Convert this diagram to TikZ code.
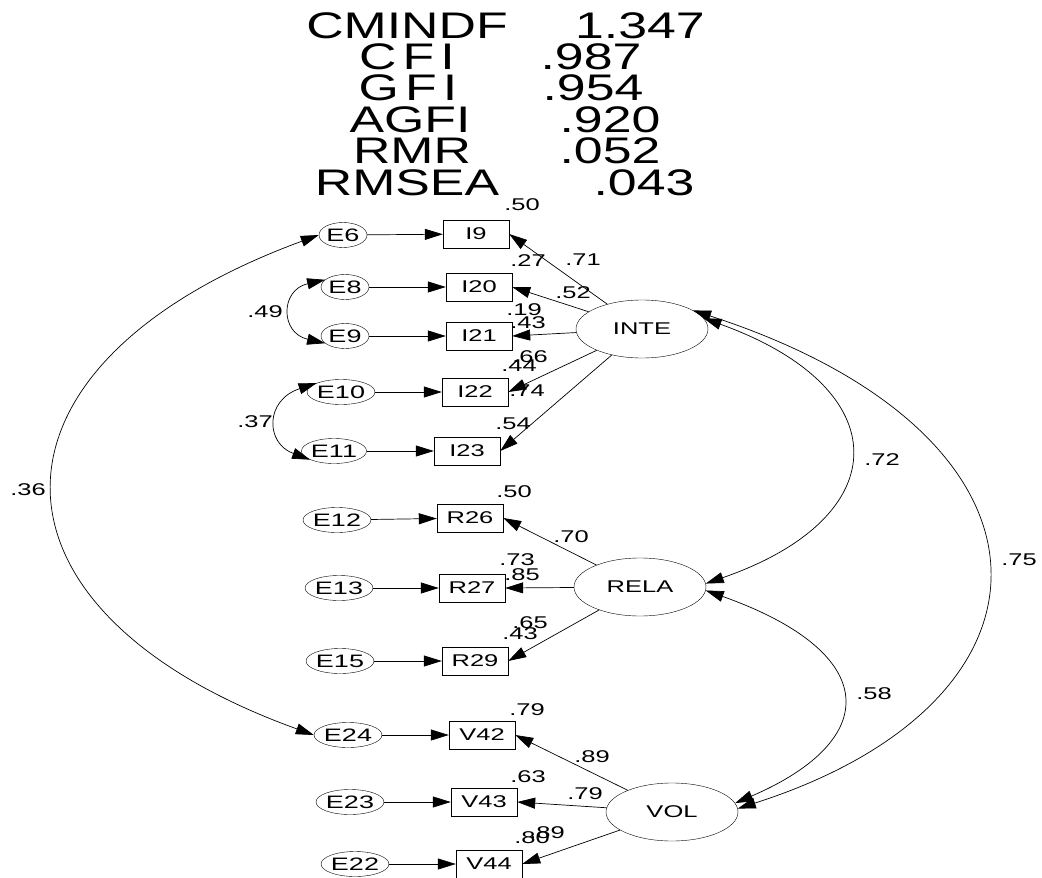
\documentclass[tikz,border=0pt]{standalone}
\usepackage{fontspec}
\setmainfont[FakeStretch=1.5]{Liberation Sans}
\newfontfamily\fitfont[FakeStretch=1.4]{Liberation Sans}
\usepackage{tikz}
\usetikzlibrary{arrows.meta, shapes.geometric}

\begin{document}
\begin{tikzpicture}[
            x=1pt, y=-1pt,
            every node/.style={font=\fontsize{17}{17}\selectfont, inner sep=0pt},
            errvar/.style={draw, ellipse, minimum width=48pt, minimum height=25pt, font=\fontsize{18}{18}\selectfont},
            obsbox/.style={draw, rectangle, minimum width=66pt, minimum height=28pt},
            latent/.style={draw, ellipse, minimum width=132pt, minimum height=58pt},
            fitline/.style={font=\fitfont\fontsize{37}{37}\selectfont},
            regpath/.style={-{Triangle[length=18pt, width=11pt]}, line width=0.7pt},
            covpath/.style={{Triangle[length=18pt, width=11pt]}-{Triangle[length=18pt, width=11pt]}, line width=0.7pt}
        ]
            \useasboundingbox (0,0) rectangle (1042,878);

            % fit indices
            \node[fitline] at (407,26) (cmindf) {CMINDF};
            \node[fitline] at (640,26) (cmindfval) {1.347};
            \node[fitline] at (407,57) (cfi) {C\,F\,I};
            \node[fitline] at (591,57) (cfival) {.987};
            \node[fitline] at (408,88) (gfi) {G\,F\,I};
            \node[fitline] at (593,88) (gfival) {.954};
            \node[fitline] at (410,120) (agfi) {AGFI};
            \node[fitline] at (610,120) (agfival) {.920};
            \node[fitline] at (412,151) (rmr) {RMR};
            \node[fitline] at (610,151) (rmrval) {.052};
            \node[fitline] at (407,183) (rmsea) {RMSEA};
            \node[fitline] at (644,183) (rmseaval) {.043};

            % latent factors
            \node[latent] at (642,329) (INTE) {INTE};
            \node[latent] at (640,587) (RELA) {RELA};
            \node[latent] at (672,812) (VOL) {VOL};

            % interest items
            \node[errvar] at (343,235) (E6) {E6};
            \node[obsbox] at (476,234) (I9) {I9};
            \node[errvar] at (345,287) (E8) {E8};
            \node[obsbox] at (479,287) (I20) {I20};
            \node[errvar] at (345,336) (E9) {E9};
            \node[obsbox] at (479,336) (I21) {I21};
            \node[errvar] at (341,392) (E10) {E10};
            \node[obsbox] at (475,392) (I22) {I22};
            \node[errvar] at (334,451) (E11) {E11};
            \node[obsbox] at (467,451) (I23) {I23};

            % relation items
            \node[errvar] at (337,520) (E12) {E12};
            \node[obsbox] at (470,518) (R26) {R26};
            \node[errvar] at (339,588) (E13) {E13};
            \node[obsbox] at (472,588) (R27) {R27};
            \node[errvar] at (340,661) (E15) {E15};
            \node[obsbox] at (475,661) (R29) {R29};

            % volition items
            \node[errvar] at (348,735) (E24) {E24};
            \node[obsbox] at (482,735) (V42) {V42};
            \node[errvar] at (350,802) (E23) {E23};
            \node[obsbox] at (484,802) (V43) {V43};
            \node[errvar] at (355,864) (E22) {E22};
            \node[obsbox] at (489,864) (V44) {V44};

            % error paths
            \foreach \e/\v in {E6/I9, E8/I20, E9/I21, E10/I22, E11/I23, E12/R26, E13/R27, E15/R29, E24/V42, E23/V43, E22/V44}
                \draw[regpath] (\e) -- (\v);

            % loadings
            \foreach \f/\v in {INTE/I9, INTE/I20, INTE/I21, INTE/I22, INTE/I23, RELA/R26, RELA/R27, RELA/R29, VOL/V42, VOL/V43, VOL/V44}
                \draw[regpath] (\f) -- (\v.east);

            % covariances
            \draw[covpath] (E8.160) .. controls (280,290) and (280,333) .. (E9.200);
            \draw[covpath] (E10.160) .. controls (265,400) and (265,443) .. (E11.200);
            \draw[covpath] (E6.west) .. controls (-33,364) and (-33,610) .. (E24.west);
            \draw[covpath] (INTE.10) .. controls (898,388) and (898,517) .. (RELA.3);
            \draw[covpath] (RELA.-3) .. controls (882,653) and (882,740) .. (VOL.8);
            \draw[covpath] (INTE.20) .. controls (1077,435) and (1077,700) .. (VOL.3);

            % estimates
            \node at (522,205) (sI9) {.50};
            \node at (583,260) (lI9) {.71};
            \node at (528,261) (sI20) {.27};
            \node at (573,293) (lI20) {.52};
            \node at (524,310) (sI21) {.19};
            \node at (528,323) (lI21) {.43};
            \node at (530,357) (lI22) {.66};
            \node at (519,366) (sI22) {.44};
            \node at (527,391) (lI23) {.74};
            \node at (513,424) (sI23) {.54};
            \node at (514,492) (sR26) {.50};
            \node at (571,537) (lR26) {.70};
            \node at (517,560) (sR27) {.73};
            \node at (522,575) (lR27) {.85};
            \node at (530,623) (lR29) {.65};
            \node at (520,634) (sR29) {.43};
            \node at (527,710) (sV42) {.79};
            \node at (592,757) (lV42) {.89};
            \node at (528,777) (sV43) {.63};
            \node at (585,794) (lV43) {.79};
            \node at (547,833) (lV44) {.89};
            \node at (532,838) (sV44) {.80};
            \node at (265,312) (cE8) {.49};
            \node at (255,422) (cE10) {.37};
            \node at (28,490) (cE6) {.36};
            \node at (882,460) (cIR) {.72};
            \node at (874,694) (cRV) {.58};
            \node at (1019,560) (cIV) {.75};

        \end{tikzpicture}
\end{document}
